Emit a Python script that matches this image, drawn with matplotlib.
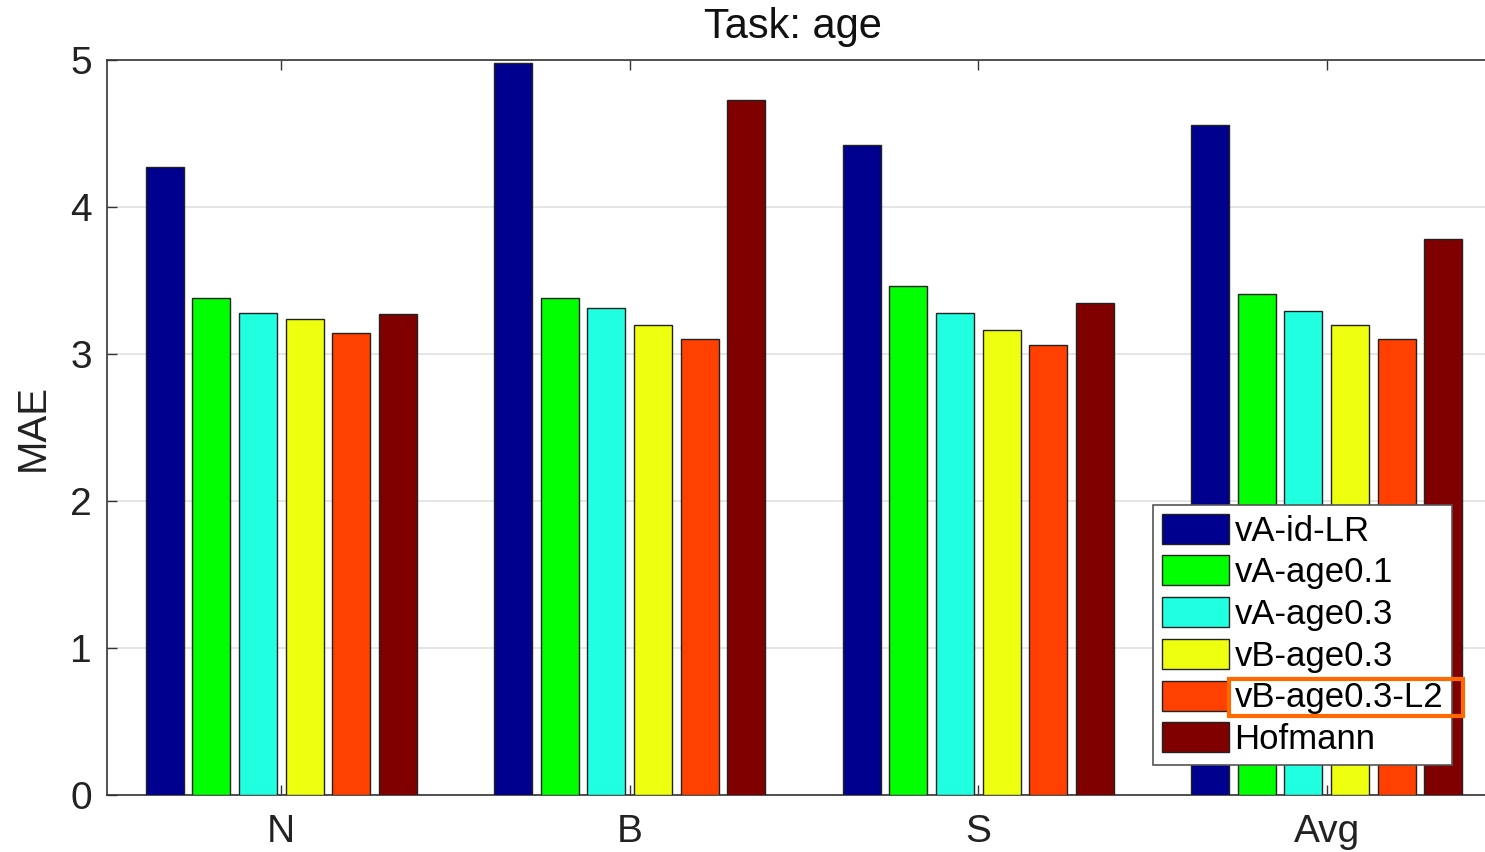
import numpy as np
import matplotlib
matplotlib.use('Agg')
import matplotlib.pyplot as plt
from matplotlib.patches import Rectangle

plt.rcParams['font.family'] = ['Liberation Sans', 'DejaVu Sans']

groups = ['N', 'B', 'S', 'Avg']
methods = ['vA-id-LR', 'vA-age0.1', 'vA-age0.3', 'vB-age0.3', 'vB-age0.3-L2', 'Hofmann']
colors = ['#00008f', '#00ff00', '#20ffe0', '#efff10', '#ff4000', '#800000']

# MAE per method, one value per group (N, B, S, Avg)
vA_id_LR = [4.27, 4.98, 4.42, 4.56]
vA_age01 = [3.38, 3.38, 3.46, 3.41]
vA_age03 = [3.28, 3.31, 3.28, 3.29]
vB_age03 = [3.24, 3.20, 3.16, 3.20]
vB_age03_L2 = [3.14, 3.10, 3.06, 3.10]
hofmann = [3.27, 4.73, 3.35, 3.78]
values = [vA_id_LR, vA_age01, vA_age03, vB_age03, vB_age03_L2, hofmann]

fig = plt.figure(figsize=(14.85, 8.52), dpi=100)
ax = fig.add_axes([107/1485, 57/852, 1394/1485, 735/852])

x = np.arange(1, len(groups) + 1)
step = 0.1337
width = 0.109
for i, (vals, c, lab) in enumerate(zip(values, colors, methods)):
    ax.bar(x + (i - 2.5) * step, vals, width, color=c, edgecolor='#222222',
           linewidth=1.0, label=lab, zorder=3)

ax.set_xlim(0.5, 4.5)
ax.set_ylim(0, 5)
ax.set_xticks(x)
ax.set_xticklabels(groups)
ax.set_yticks([0, 1, 2, 3, 4, 5])
ax.grid(axis='y', color='#e0e0e0', linewidth=1.2, zorder=0)
ax.tick_params(direction='in', length=7, width=1, color='#333333',
               labelsize=28, labelcolor='#222222', top=True, right=True)
ax.tick_params(axis='x', pad=14)
ax.tick_params(axis='y', pad=11)
for s in ax.spines.values():
    s.set_color('#333333')
    s.set_linewidth(1.2)
ax.set_ylabel('MAE', fontsize=29, color='#222222', labelpad=13)
fig.text(793/1485, 1 - 27/852, 'Task: age', fontsize=30, color='#111111',
         ha='center', va='center')

leg = fig.legend(loc='upper left', bbox_to_anchor=(1153/1485, 1 - 505/852),
                 fontsize=25, frameon=True, fancybox=False, framealpha=1,
                 edgecolor='#555555', handlelength=1.93, handleheight=0.95,
                 handletextpad=0.17, labelspacing=0.225, borderpad=0.25,
                 borderaxespad=0)
leg.get_frame().set_linewidth(1.2)

# orange box around the highlighted legend entry
fig.canvas.draw()
txt = leg.get_texts()[4]
bb = txt.get_window_extent().transformed(fig.transFigure.inverted())
pl, pr, pv = 6/1485, 20/1485, 2/852
fig.add_artist(Rectangle((bb.x0 - pl, bb.y0 - pv), bb.width + pl + pr, bb.height + 2*pv,
                         transform=fig.transFigure, fill=False,
                         edgecolor='#ff6a00', linewidth=3, zorder=10))

fig.savefig('out.png', dpi=100)
